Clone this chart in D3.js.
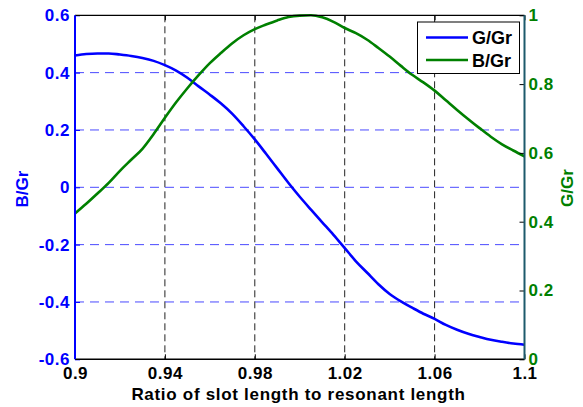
<!DOCTYPE html>
<html lang="en">
<head>
<meta charset="utf-8">
<title>Slot admittance</title>
<script src="https://cdn.jsdelivr.net/npm/d3@7"></script>
<style>
  body { margin: 0; background: #fff; }
  text { font-family: "Liberation Sans", Arial, sans-serif; font-weight: bold; }
</style>
</head>
<body>
<div id="chart"></div>
<script>
// x values: ratio of slot length to resonant length
var ratio = [0.900, 0.905, 0.910, 0.915, 0.920, 0.925, 0.930, 0.935, 0.940, 0.945,
             0.950, 0.955, 0.960, 0.965, 0.970, 0.975, 0.980, 0.985, 0.990, 0.995,
             1.000, 1.005, 1.010, 1.015, 1.020, 1.025, 1.030, 1.035, 1.040, 1.045,
             1.050, 1.055, 1.060, 1.065, 1.070, 1.075, 1.080, 1.085, 1.090, 1.095, 1.100]

// blue curve, left axis
var leftSeries = [0.460, 0.465, 0.467, 0.467, 0.463, 0.458, 0.451, 0.441, 0.426, 0.407,
                  0.382, 0.352, 0.323, 0.292, 0.256, 0.213, 0.167, 0.117, 0.066, 0.015,
                  -0.033, -0.078, -0.122, -0.166, -0.212, -0.258, -0.298, -0.338, -0.372, -0.398,
                  -0.420, -0.441, -0.459, -0.480, -0.497, -0.511, -0.522, -0.532, -0.539, -0.545, -0.549]

// green curve, right axis
var rightSeries = [0.424, 0.452, 0.482, 0.513, 0.548, 0.580, 0.612, 0.655, 0.702, 0.747,
                   0.788, 0.826, 0.861, 0.891, 0.919, 0.942, 0.960, 0.973, 0.985, 0.995,
                   0.999, 1.000, 0.994, 0.981, 0.963, 0.948, 0.929, 0.905, 0.880, 0.853,
                   0.827, 0.805, 0.781, 0.753, 0.725, 0.698, 0.672, 0.647, 0.625, 0.607, 0.590]

var xTicks = [0.9, 0.94, 0.98, 1.02, 1.06, 1.1]
var xTickLabels = ["0.9", "0.94", "0.98", "1.02", "1.06", "1.1"]
var leftTicks = [-0.6, -0.4, -0.2, 0, 0.2, 0.4, 0.6]
var leftTickLabels = ["-0.6", "-0.4", "-0.2", "0", "0.2", "0.4", "0.6"]
var rightTicks = [0, 0.2, 0.4, 0.6, 0.8, 1]
var rightTickLabels = ["0", "0.2", "0.4", "0.6", "0.8", "1"]
var legendLabels = ["G/Gr", "B/Gr"]

var width = 583, height = 407
var plotL = 75, plotR = 524.5, plotT = 15.3, plotB = 359.3
var blue = "#0000ff", green = "#008000"

var svg = d3.select("#chart").append("svg")
    .attr("width", width)
    .attr("height", height)

var x = d3.scaleLinear().domain([0.9, 1.1]).range([plotL, plotR])
var yL = d3.scaleLinear().domain([-0.6, 0.6]).range([plotB, plotT])
var yR = d3.scaleLinear().domain([0, 1]).range([plotB, plotT])

// grid lines (inner ones only)
svg.append("g").selectAll("line")
  .data(xTicks.slice(1, -1))
  .enter().append("line")
    .attr("x1", d => x(d)).attr("x2", d => x(d))
    .attr("y1", plotT).attr("y2", plotB)
    .attr("stroke", "#222")
    .attr("stroke-width", 1)
    .attr("stroke-dasharray", "7,4")

svg.append("g").selectAll("line")
  .data(leftTicks.slice(1, -1))
  .enter().append("line")
    .attr("x1", plotL).attr("x2", plotR)
    .attr("y1", d => yL(d)).attr("y2", d => yL(d))
    .attr("stroke", "#4a4aff")
    .attr("stroke-width", 1)
    .attr("stroke-dasharray", "9,6")

// curves
var lineL = d3.line().x((d, i) => x(ratio[i])).y(d => yL(d)).curve(d3.curveMonotoneX)
var lineR = d3.line().x((d, i) => x(ratio[i])).y(d => yR(d)).curve(d3.curveMonotoneX)

svg.append("path").datum(leftSeries)
    .attr("d", lineL).attr("fill", "none")
    .attr("stroke", blue).attr("stroke-width", 2.6)
svg.append("path").datum(rightSeries)
    .attr("d", lineR).attr("fill", "none")
    .attr("stroke", green).attr("stroke-width", 2.6)

// axes
var axB = svg.append("g").attr("transform", "translate(0," + plotB + ")")
  .call(d3.axisBottom(x).tickValues(xTicks).tickSize(-5).tickSizeOuter(0).tickPadding(7.5)
        .tickFormat((d, i) => xTickLabels[i]))
var axT = svg.append("g").attr("transform", "translate(0," + plotT + ")")
  .call(d3.axisTop(x).tickValues(xTicks).tickSize(-5).tickSizeOuter(0).tickFormat(""))
var axL = svg.append("g").attr("transform", "translate(" + plotL + ",0)")
  .call(d3.axisLeft(yL).tickValues(leftTicks).tickSize(-5).tickSizeOuter(0).tickPadding(5)
        .tickFormat((d, i) => leftTickLabels[i]))
var axR = svg.append("g").attr("transform", "translate(" + plotR + ",0)")
  .call(d3.axisRight(yR).tickValues(rightTicks).tickSize(-5).tickSizeOuter(0).tickPadding(4)
        .tickFormat((d, i) => rightTickLabels[i]))

svg.selectAll(".domain").remove()
axB.selectAll("line").attr("stroke", "#000")
axT.selectAll("line").attr("stroke", "#000")
axL.selectAll("line").attr("stroke", blue)
axR.selectAll("line").attr("stroke", "#000")
axB.selectAll("text").attr("fill", "#000")
axL.selectAll("text").attr("fill", blue)
axR.selectAll("text").attr("fill", green)
svg.selectAll(".tick text")
    .style("font-size", "17px")
    .style("letter-spacing", "0.5px")
    .attr("font-family", null)

// frame
svg.append("line").attr("x1", plotL).attr("x2", plotR).attr("y1", plotT).attr("y2", plotT)
    .attr("stroke", "#000").attr("stroke-width", 1.2)
svg.append("line").attr("x1", plotL).attr("x2", plotR).attr("y1", plotB).attr("y2", plotB)
    .attr("stroke", "#000").attr("stroke-width", 1.5)
svg.append("line").attr("x1", plotL).attr("x2", plotL).attr("y1", plotT).attr("y2", plotB)
    .attr("stroke", blue).attr("stroke-width", 2)
svg.append("line").attr("x1", plotR).attr("x2", plotR).attr("y1", plotT).attr("y2", plotB)
    .attr("stroke", "#1d5a6c").attr("stroke-width", 2)

// axis labels
svg.append("text")
    .attr("x", 298.5).attr("y", 400)
    .attr("text-anchor", "middle")
    .style("font-size", "17px").style("letter-spacing", "0.7px")
    .text("Ratio of slot length to resonant length")
svg.append("text")
    .attr("transform", "translate(28,189) rotate(-90)")
    .attr("text-anchor", "middle").attr("fill", blue)
    .style("font-size", "17px")
    .text("B/Gr")
svg.append("text")
    .attr("transform", "translate(573,188) rotate(-90)")
    .attr("text-anchor", "middle").attr("fill", green)
    .style("font-size", "17px")
    .text("G/Gr")

// legend
var lg = svg.append("g")
lg.append("rect")
    .attr("x", 417.5).attr("y", 22).attr("width", 102).attr("height", 51.5)
    .attr("fill", "#fff").attr("stroke", "#000").attr("stroke-width", 1)
var legendColors = [blue, green]
legendLabels.forEach(function(lab, i) {
  var ly = 37.5 + i * 22.5
  lg.append("line")
      .attr("x1", 426).attr("x2", 468).attr("y1", ly).attr("y2", ly)
      .attr("stroke", legendColors[i]).attr("stroke-width", 2.6)
  lg.append("text")
      .attr("x", 472).attr("y", ly + 6.5)
      .style("font-size", "18px")
      .text(lab)
})
</script>
</body>
</html>
